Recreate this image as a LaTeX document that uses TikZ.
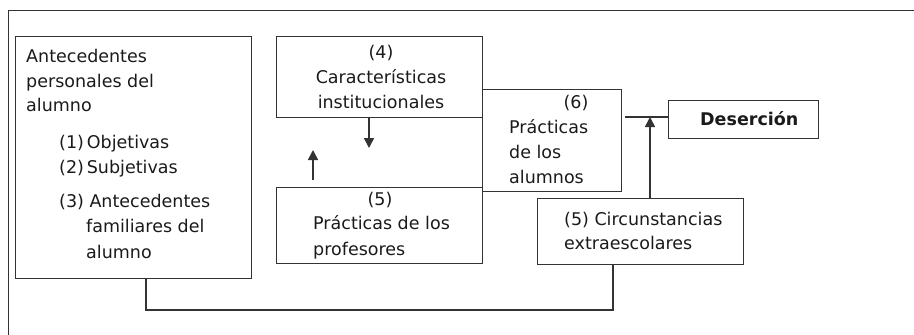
\documentclass[tikz,border=0pt]{standalone}
\usepackage{fontspec}
\setmainfont{DejaVu Sans}
\usepackage{xcolor}
\usetikzlibrary{arrows.meta}

\definecolor{linegray}{HTML}{333333}
\definecolor{textgray}{HTML}{1A1A1A}

\tikzset{
  box/.style={draw=linegray, line width=1.3pt, rectangle, inner sep=0pt, anchor=north west},
  txt/.style={anchor=base west, inner sep=0pt, text=textgray},
  ctxt/.style={anchor=base, inner sep=0pt, text=textgray},
  arr/.style={-{Triangle[width=10pt,length=10pt]}, line width=1.6pt, draw=linegray},
  link/.style={line width=1.3pt, draw=linegray}
}

\begin{document}
\begin{tikzpicture}[x=1pt, y=-1pt, font=\fontsize{17.5}{26}\selectfont]
				      \useasboundingbox (0,0) rectangle (914,335);

				      % Frame
				      \draw[link] (914,10.5) -- (8.5,10.5) -- (8.5,335);

				      % Boxes
				      \node[box, minimum width=236pt, minimum height=242pt] (antec) at (15,36) {};
				      \node[box, minimum width=206pt, minimum height=81pt] (caract) at (276,36) {};
				      \node[box, minimum width=206pt, minimum height=76pt] (profes) at (276,187) {};
				      \node[box, minimum width=139pt, minimum height=102pt] (alumnos) at (482,89) {};
				      \node[box, minimum width=150pt, minimum height=38pt] (desercion) at (668,100) {};
				      \node[box, minimum width=206pt, minimum height=66pt] (circ) at (537,198) {};

				      % Antecedentes
				      \node[txt] (antA) at (26,62) {Antecedentes};
				      \node[txt] (antB) at (26,87) {personales del};
				      \node[txt] (antC) at (26,111) {alumno};
				      \node[txt] (obj) at (59,148) {(1)\,Objetivas};
				      \node[txt] (subj) at (59,173) {(2)\,Subjetivas};
				      \node[txt] (famA) at (59,207) {(3) Antecedentes};
				      \node[txt] (famB) at (86,232) {familiares del};
				      \node[txt] (famC) at (86,258) {alumno};

				      % Caracteristicas
				      \node[ctxt] (carA) at (381,58) {(4)};
				      \node[ctxt] (carB) at (381,83) {Características};
				      \node[ctxt] (carC) at (381,108) {institucionales};

				      % Profesores
				      \node[ctxt] (proA) at (380,205) {(5)};
				      \node[txt] (proB) at (313,229) {Prácticas de los};
				      \node[txt] (proC) at (313,255) {profesores};

				      % Alumnos
				      \node[ctxt] (aluA) at (576,108) {(6)};
				      \node[txt] (aluB) at (509,133) {Prácticas};
				      \node[txt] (aluC) at (509,158) {de los};
				      \node[txt] (aluD) at (509,183) {alumnos};

				      % Desercion and circunstancias
				      \node[txt, font=\fontsize{17.5}{26}\selectfont\bfseries] (desT) at (700,125) {Deserción};
				      \node[txt] (cirA) at (564,225) {(5) Circunstancias};
				      \node[txt] (cirB) at (564,249) {extraescolares};

				      % Arrows
				      \coordinate (down) at (369,148);
				      \draw[arr] (caract.south -| down) -- (down);
				      \coordinate (upA) at (313,180);
				      \coordinate (upB) at (313,150);
				      \draw[arr] (upA) -- (upB);
				      \coordinate (join) at (650,117);
				      \draw[link] ([xshift=3pt]alumnos.east |- join) -- (desercion.west |- join);
				      \draw[arr] (circ.north -| join) -- (join);

				      % Bottom link
				      \coordinate (botL) at (146,310);
				      \coordinate (botR) at (613,310);
				      \draw[link] (antec.south -| botL) -- (botL) -- (botR) -- (circ.south -| botR);
			      \end{tikzpicture}
\end{document}
